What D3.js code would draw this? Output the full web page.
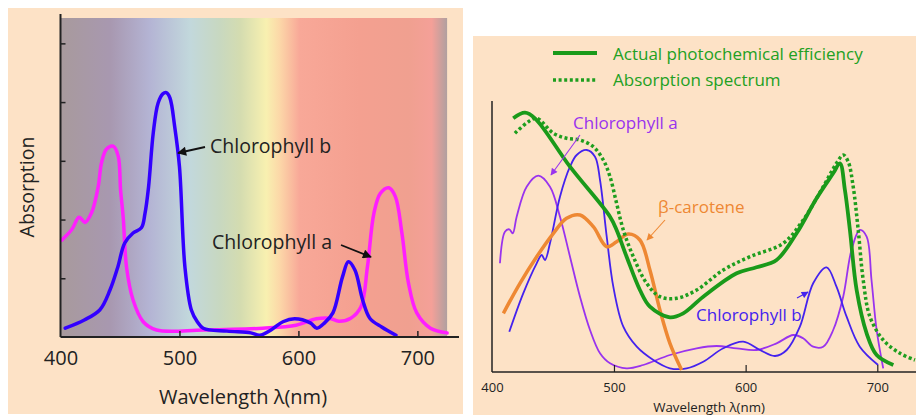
<!DOCTYPE html>
<html><head><meta charset="utf-8">
<script src="https://cdn.jsdelivr.net/npm/d3@7"></script>
<style>body{margin:0;background:#fff}svg{display:block}text{font-family:"Open Sans",sans-serif}</style>
</head><body><svg id="c" width="916" height="415"></svg>
<script>
// ---------- DATA ----------
// Left panel: absorption (arbitrary units, one y tick = 1)
const leftTicksX = [400, 500, 600, 700];
const leftTicksY = [1, 2, 3, 4, 5];
const chlA_left = [[401,1.65],[409.5,1.83],[415.6,2.04],[420.6,1.95],[426,2.11],[431.7,2.56],[434.5,2.97],[438.7,3.2],[444.3,3.25],[448.5,3.08],[450.5,2.5],[452.7,2.04],[455.5,1.19],[461,0.63],[469.5,0.26],[480.7,0.12],[520,0.12],[570,0.15],[598,0.2],[615,0.31],[626,0.32],[634,0.27],[644,0.32],[652.5,0.51],[658,1.19],[663.5,2.11],[669,2.45],[676,2.54],[681.5,2.39],[687,1.77],[692.5,0.92],[699.5,0.41],[711,0.15],[725,0.07]];
const chlB_left = [[404,0.15],[420,0.29],[433,0.46],[441.6,0.8],[448,1.18],[454,1.6],[461,1.77],[468,1.86],[471,2.1],[474,2.55],[478,3.48],[482,3.98],[486,4.14],[489,4.16],[492,4.07],[496,3.58],[500,2.9],[504.6,1.19],[510,0.46],[515,0.26],[520,0.15],[540,0.1],[560,0.07],[567.5,0.03],[577,0.12],[587,0.26],[597,0.31],[610,0.24],[615.5,0.15],[622,0.24],[629,0.41],[637,1.02],[642,1.28],[647.5,1.14],[654,0.63],[660,0.32],[670,0.17],[682,0.03]];
const spectrumStops = [[400,"#a89a9c"],[442,"#a898b0"],[475,"#b4b4d4"],[509,"#c2d8dc"],[534,"#c8d8c0"],[551,"#d4dcb0"],[573,"#f8f0b0"],[584,"#fcd8a8"],[601,"#f8a898"],[651,"#f4a090"],[693,"#f0a090"],[712,"#f4a098"],[725,"#b0a0a0"]];

// Right panel (arbitrary units)
const rightTicksX = [400, 500, 600, 700];
const efficiency = [[423.5,253.7],[432.4,259.3],[440,253.7],[466.6,205.3],[497,155.3],[502,142],[509.6,115.3],[519.7,82],[527.3,65.3],[542.5,54.7],[552.6,58.7],[567.8,75.3],[593.2,98.7],[608.3,104.7],[623.5,112],[638.7,138.7],[653.9,173.7],[666.5,198.7],[671.6,208.7],[675.4,182],[679.2,142],[684.3,82],[691.9,38.7],[699.5,17],[712.2,7]];
const absorption = [[424.8,238.7],[435,250.3],[441.3,253.7],[454,238.7],[464,233.7],[474.2,232],[484.3,225.3],[491.9,212],[497,195.3],[502,168.7],[507.1,142],[514.7,115.3],[524.8,88.7],[534.9,75.3],[547.6,73.7],[562.8,82],[583,102],[603.3,115.3],[628.5,128.7],[643.7,152],[658.9,185.3],[669,208.7],[674.1,217],[677.9,210.3],[681.7,185.3],[685.5,142],[689.3,92],[694.4,55.3],[704.5,32],[717.2,18.7],[728.6,12]];
const carotene = [[416,58.7],[428.6,88.7],[441.3,115.3],[454,138.7],[464,153.7],[474.2,157],[484.3,145.3],[494.5,125.3],[502,130.3],[510.9,138],[519.7,132],[527.3,102],[534.9,62],[542.5,28.7],[551.4,2]];
const chlA_right = [[413.4,108.7],[417.2,140.3],[420.5,142.7],[423.1,138.7],[426.1,155.3],[433.7,185.3],[442.5,196.3],[451.4,185.3],[459,155.3],[466.6,115.3],[474.2,75.3],[481.8,42],[489.4,18.7],[497,8.7],[509.6,3.7],[522.2,7],[542.5,17],[562.8,23.7],[577.9,26],[593.2,23.7],[608.3,22],[623.5,28.7],[636.2,37],[643.7,33.7],[651.3,25.3],[658.9,25.3],[666.5,42],[674.1,75.3],[680.4,122],[686.7,142],[691.9,135.3],[695.6,92],[699.5,42],[704.5,3.7]];
const chlB_right = [[420.5,40.3],[431.1,78.7],[441.3,108.7],[445.1,117],[447.6,112],[451.4,128.7],[459,175.3],[466.6,205.3],[471.7,217],[479.3,222],[485.6,215.3],[489.4,192],[494.5,135.3],[499.5,85.3],[507.1,45.3],[517.3,25.3],[529.9,12],[542.5,3.7],[555.2,3.7],[567.8,10.3],[583,23.7],[598.2,30.3],[610.9,22],[622.3,16],[631.2,22],[641.2,45.3],[651.3,88.7],[661.5,104.7],[669,85.3],[676.7,55.3],[686.7,25.3],[700.6,7]];

// ---------- DRAW ----------
const svg = d3.select("#c");
const peach = "#fde2c6";
const defs = svg.append("defs");
function arrowMarker(id, color, w, h) {
  defs.append("marker").attr("id", id).attr("viewBox", "0 0 10 10").attr("refX", 9).attr("refY", 5)
    .attr("markerWidth", w).attr("markerHeight", h).attr("markerUnits", "userSpaceOnUse").attr("orient", "auto")
    .append("path").attr("d", "M0,0L10,5L0,10Z").attr("fill", color);
}
arrowMarker("arK", "#111", 13, 9);
arrowMarker("arP", "#9933ee", 9, 7);
arrowMarker("arO", "#ee8833", 9, 7);
arrowMarker("arB", "#4422ee", 9, 7);

// ===== LEFT PANEL =====
svg.append("rect").attr("x", 8).attr("y", 8).attr("width", 455).attr("height", 406).attr("fill", peach);
const xL = d3.scaleLinear().domain([400, 735]).range([60.5, 459]);
const yL = d3.scaleLinear().domain([0, 5.5]).range([337, 14]);
const grad = defs.append("linearGradient").attr("id", "spec").attr("gradientUnits", "userSpaceOnUse")
  .attr("x1", xL(400)).attr("x2", xL(725)).attr("y1", 0).attr("y2", 0);
spectrumStops.forEach(([w, c]) => grad.append("stop").attr("offset", (w - 400) / 325).attr("stop-color", c));
svg.append("rect").attr("x", xL(400)).attr("y", 18).attr("width", xL(725) - xL(400)).attr("height", yL(0) - 18).attr("fill", "url(#spec)");

const lineL = d3.line().x(d => xL(d[0])).y(d => yL(d[1])).curve(d3.curveCatmullRom.alpha(0.5));
svg.append("path").datum(chlA_left).attr("d", lineL).attr("fill", "none").attr("stroke", "#ff1eff").attr("stroke-width", 3.5).attr("stroke-linecap", "round");
svg.append("path").datum(chlB_left).attr("d", lineL).attr("fill", "none").attr("stroke", "#3300ff").attr("stroke-width", 3.5).attr("stroke-linecap", "round");

// axes
const gxL = svg.append("g").attr("transform", `translate(0,${yL(0)})`)
  .call(d3.axisBottom(xL).tickValues(leftTicksX).tickSize(0).tickPadding(14));
gxL.select(".domain").remove();
gxL.selectAll("text").attr("font-size", 20).attr("fill", "#222").attr("font-family", "Open Sans");
gxL.selectAll(".tick").filter(d => d > 400).append("line").attr("y1", 0).attr("y2", -6).attr("stroke", "#222").attr("stroke-width", 1.5);
svg.append("line").attr("x1", xL(400)).attr("x2", xL(735)).attr("y1", yL(0)).attr("y2", yL(0)).attr("stroke", "#222").attr("stroke-width", 2);
const gyL = svg.append("g").attr("transform", `translate(${xL(400)},0)`)
  .call(d3.axisRight(yL).tickValues(leftTicksY).tickSize(5).tickFormat(""));
gyL.select(".domain").remove();
gyL.selectAll("line").attr("stroke", "#222").attr("stroke-width", 1.5);
svg.append("line").attr("x1", xL(400)).attr("x2", xL(400)).attr("y1", yL(5.5)).attr("y2", yL(0)).attr("stroke", "#222").attr("stroke-width", 2);

svg.append("text").attr("x", 243).attr("y", 404).attr("text-anchor", "middle").attr("font-size", 20).attr("fill", "#222").text("Wavelength λ(nm)");
svg.append("text").attr("transform", "translate(34,187) rotate(-90)").attr("text-anchor", "middle").attr("font-size", 19.5).attr("fill", "#222").text("Absorption");

svg.append("text").attr("x", 210).attr("y", 153).attr("font-size", 19.5).attr("fill", "#222").text("Chlorophyll b");
svg.append("line").attr("x1", 205).attr("y1", 147).attr("x2", 178).attr("y2", 153).attr("stroke", "#111").attr("stroke-width", 1.8).attr("marker-end", "url(#arK)");
svg.append("text").attr("x", 212).attr("y", 249).attr("font-size", 19.5).attr("fill", "#222").text("Chlorophyll a");
svg.append("line").attr("x1", 341).attr("y1", 245).attr("x2", 371).attr("y2", 257).attr("stroke", "#111").attr("stroke-width", 1.8).attr("marker-end", "url(#arK)");

// ===== RIGHT PANEL =====
svg.append("rect").attr("x", 473).attr("y", 36).attr("width", 443).attr("height", 379).attr("fill", peach);
const xR = d3.scaleLinear().domain([400, 700]).range([482.3, 877.3]);
const yR = d3.scaleLinear().domain([0, 270]).range([372, 102]);
const lineR = d3.line().x(d => xR(d[0])).y(d => yR(d[1])).curve(d3.curveCatmullRom.alpha(0.5));

svg.append("path").datum(chlA_right).attr("d", lineR).attr("fill", "none").attr("stroke", "#9933ee").attr("stroke-width", 1.8);
svg.append("path").datum(chlB_right).attr("d", lineR).attr("fill", "none").attr("stroke", "#4422ee").attr("stroke-width", 1.8);
svg.append("path").datum(carotene).attr("d", lineR).attr("fill", "none").attr("stroke", "#ee8833").attr("stroke-width", 3.5);
svg.append("path").datum(absorption).attr("d", lineR).attr("fill", "none").attr("stroke", "#1e9e1e").attr("stroke-width", 3.5).attr("stroke-dasharray", "3,2.6");
svg.append("path").datum(efficiency).attr("d", lineR).attr("fill", "none").attr("stroke", "#1a9a1a").attr("stroke-width", 3.8);

const axisX0 = 492;
const gxR = svg.append("g").attr("transform", `translate(0,${yR(0)})`)
  .call(d3.axisBottom(xR).tickValues(rightTicksX).tickSize(0).tickPadding(11));
gxR.select(".domain").remove();
gxR.selectAll("text").attr("font-size", 13).attr("fill", "#222").attr("font-family", "Open Sans");
gxR.selectAll(".tick").filter(d => d === 400).select("text").attr("dx", axisX0 - xR(400));
gxR.selectAll(".tick").filter(d => d > 400).append("line").attr("y1", 0).attr("y2", -7).attr("stroke", "#222").attr("stroke-width", 1.2);
svg.append("line").attr("x1", axisX0).attr("x2", 916).attr("y1", yR(0)).attr("y2", yR(0)).attr("stroke", "#222").attr("stroke-width", 1.5);
svg.append("line").attr("x1", axisX0).attr("x2", axisX0).attr("y1", yR(271)).attr("y2", yR(0)).attr("stroke", "#222").attr("stroke-width", 1.5);
svg.append("text").attr("x", 709).attr("y", 412).attr("text-anchor", "middle").attr("font-size", 13.3).attr("fill", "#222").text("Wavelength λ(nm)");

// legend
svg.append("line").attr("x1", 553).attr("x2", 597).attr("y1", 53).attr("y2", 53).attr("stroke", "#1a9a1a").attr("stroke-width", 3.8);
svg.append("line").attr("x1", 553).attr("x2", 597).attr("y1", 80).attr("y2", 80).attr("stroke", "#1e9e1e").attr("stroke-width", 3.5).attr("stroke-dasharray", "3,2.6");
svg.append("text").attr("x", 613).attr("y", 60).attr("font-size", 17).attr("fill", "#22a022").text("Actual photochemical efficiency");
svg.append("text").attr("x", 613).attr("y", 86).attr("font-size", 17).attr("fill", "#22a022").text("Absorption spectrum");

// annotations
svg.append("text").attr("x", 573).attr("y", 129).attr("font-size", 17).attr("fill", "#9933ee").text("Chlorophyll a");
svg.append("line").attr("x1", 580).attr("y1", 135).attr("x2", 551).attr("y2", 175).attr("stroke", "#9933ee").attr("stroke-width", 1.1).attr("marker-end", "url(#arP)");
svg.append("text").attr("x", 658).attr("y", 213).attr("font-size", 17).attr("fill", "#ee8833").text("β-carotene");
svg.append("line").attr("x1", 665).attr("y1", 220).attr("x2", 647).attr("y2", 240).attr("stroke", "#ee8833").attr("stroke-width", 1.1).attr("marker-end", "url(#arO)");
svg.append("text").attr("x", 696).attr("y", 321).attr("font-size", 17).attr("fill", "#4422ee").text("Chlorophyll b");
svg.append("line").attr("x1", 797).attr("y1", 298).attr("x2", 808).attr("y2", 292).attr("stroke", "#4422ee").attr("stroke-width", 1.1).attr("marker-end", "url(#arB)");
</script></body></html>
